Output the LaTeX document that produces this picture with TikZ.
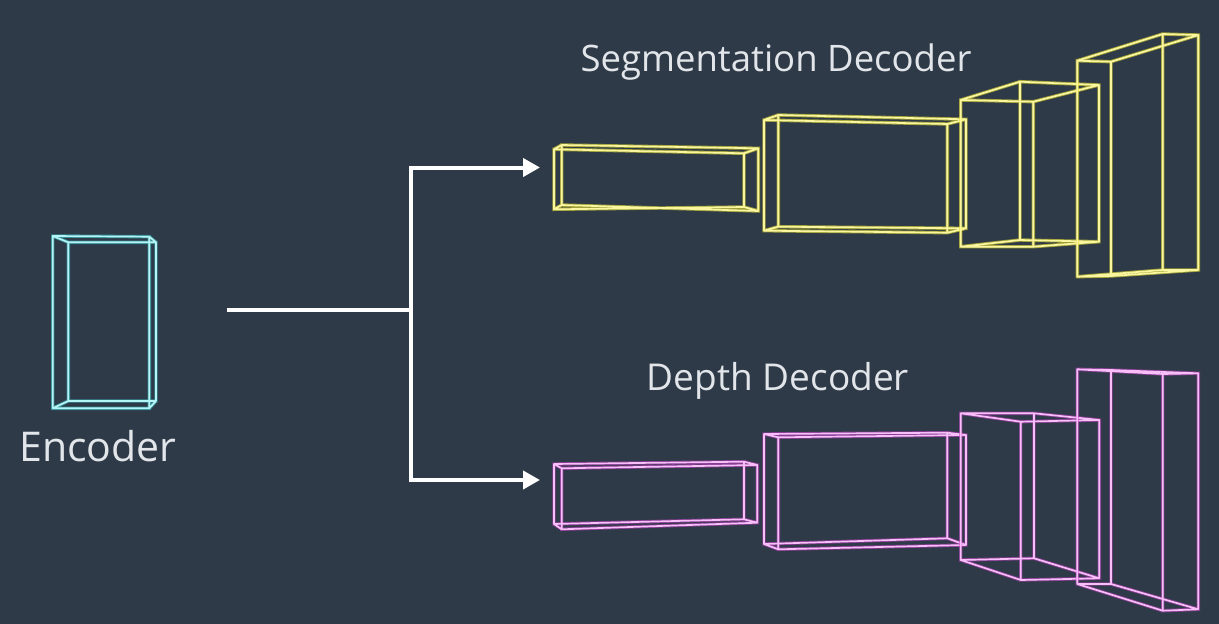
\documentclass[tikz,border=0pt]{standalone}
\usepackage{fontspec}
\setmainfont{Open Sans}
\usetikzlibrary{arrows.meta}
\definecolor{bgc}{HTML}{2E3A47}
\definecolor{txt}{HTML}{E2E6EA}
\definecolor{cyancore}{HTML}{B4F4F4}
\definecolor{cyanglow}{HTML}{40D4DC}
\definecolor{yelcore}{HTML}{FAF6A0}
\definecolor{yelglow}{HTML}{ECE430}
\definecolor{pinkcore}{HTML}{F8BEF8}
\definecolor{pinkglow}{HTML}{D040D0}
\newcommand\wirebox[9]{%
  \draw[#1] (#2)--(#3)--(#4)--(#5)--cycle (#6)--(#7)--(#8)--(#9)--cycle
    (#2)--(#6) (#3)--(#7) (#4)--(#8) (#5)--(#9);}
\tikzset{
  cy/.style={draw=cyancore, line width=1.7pt, line join=round, preaction={draw=cyanglow, line width=3.4pt, opacity=0.55}},
  ye/.style={draw=yelcore, line width=1.7pt, line join=round, preaction={draw=yelglow, line width=3.4pt, opacity=0.6}},
  pk/.style={draw=pinkcore, line width=1.7pt, line join=round, preaction={draw=pinkglow, line width=3.4pt, opacity=0.55}},
  conn/.style={draw=white, line width=4pt},
  arr/.style={conn, -{Triangle[length=17pt,width=18pt]}},
  lbl/.style={text=txt, anchor=base, inner sep=0pt}
}
\begin{document}
\begin{tikzpicture}[x=1pt,y=-1pt]
\fill[bgc] (0,0) rectangle (1219,624);
\useasboundingbox (0,0) rectangle (1219,624);
% encoder
\wirebox{cy}{52.7,236}{149.3,236.7}{149.3,408.3}{52.7,408.3}{68.3,242.3}{156,242.3}{156,401}{68.3,401}
\node[lbl, font=\fontsize{41}{45}\selectfont] (enc) at (98,461.7) {Encoder};
% segmentation decoder
\wirebox{ye}{554,149.3}{744,153.3}{744,207}{554,209.3}{561.7,145}{758.3,148.3}{758.3,211}{561.7,205}
\wirebox{ye}{764,120}{947.3,124}{947.3,232.7}{764,230.7}{778.3,115}{966,119.3}{966,228.3}{778.3,226.7}
\wirebox{ye}{960.7,100}{1033.3,101.7}{1033.3,246.7}{960.7,246.7}{1020,81.7}{1099,85}{1099,241.7}{1020,240}
\wirebox{ye}{1077.3,60.7}{1111,61.7}{1111,276}{1077.3,276.7}{1162.7,34}{1198.3,35}{1198.3,270}{1162.7,270}
\node[lbl, font=\fontsize{36.5}{40}\selectfont] (seg) at (776,71) {Segmentation Decoder};
% depth decoder
\wirebox{pk}{554,464}{744,461.7}{744,519.3}{554,524}{561.7,468.3}{757.3,465}{757.3,522.7}{561.7,529.3}
\wirebox{pk}{764,434}{947.3,432.7}{947.3,538.3}{764,544}{778.3,437.3}{966,435}{966,545}{778.3,549.3}
\wirebox{pk}{960.7,413.3}{1034,413.3}{1034,558.3}{960.7,560}{1020.7,421.7}{1099.3,420}{1099.3,578.3}{1020.7,580}
\wirebox{pk}{1077.3,369.3}{1111,370}{1111,584}{1077.3,584}{1162.7,374}{1198.3,373.3}{1198.3,609.3}{1162.7,610.7}
\node[lbl, font=\fontsize{37}{40}\selectfont] (dep) at (778,390) {Depth Decoder};
% connectors
\coordinate (src) at (226.7,310);
\coordinate (split) at (411,310);
\coordinate (segin) at (540,167.5);
\coordinate (depin) at (540,480);
\draw[conn] (src) -- (split);
\draw[arr] (split) |- (segin);
\draw[arr] (split) |- (depin);
\end{tikzpicture}
\end{document}
